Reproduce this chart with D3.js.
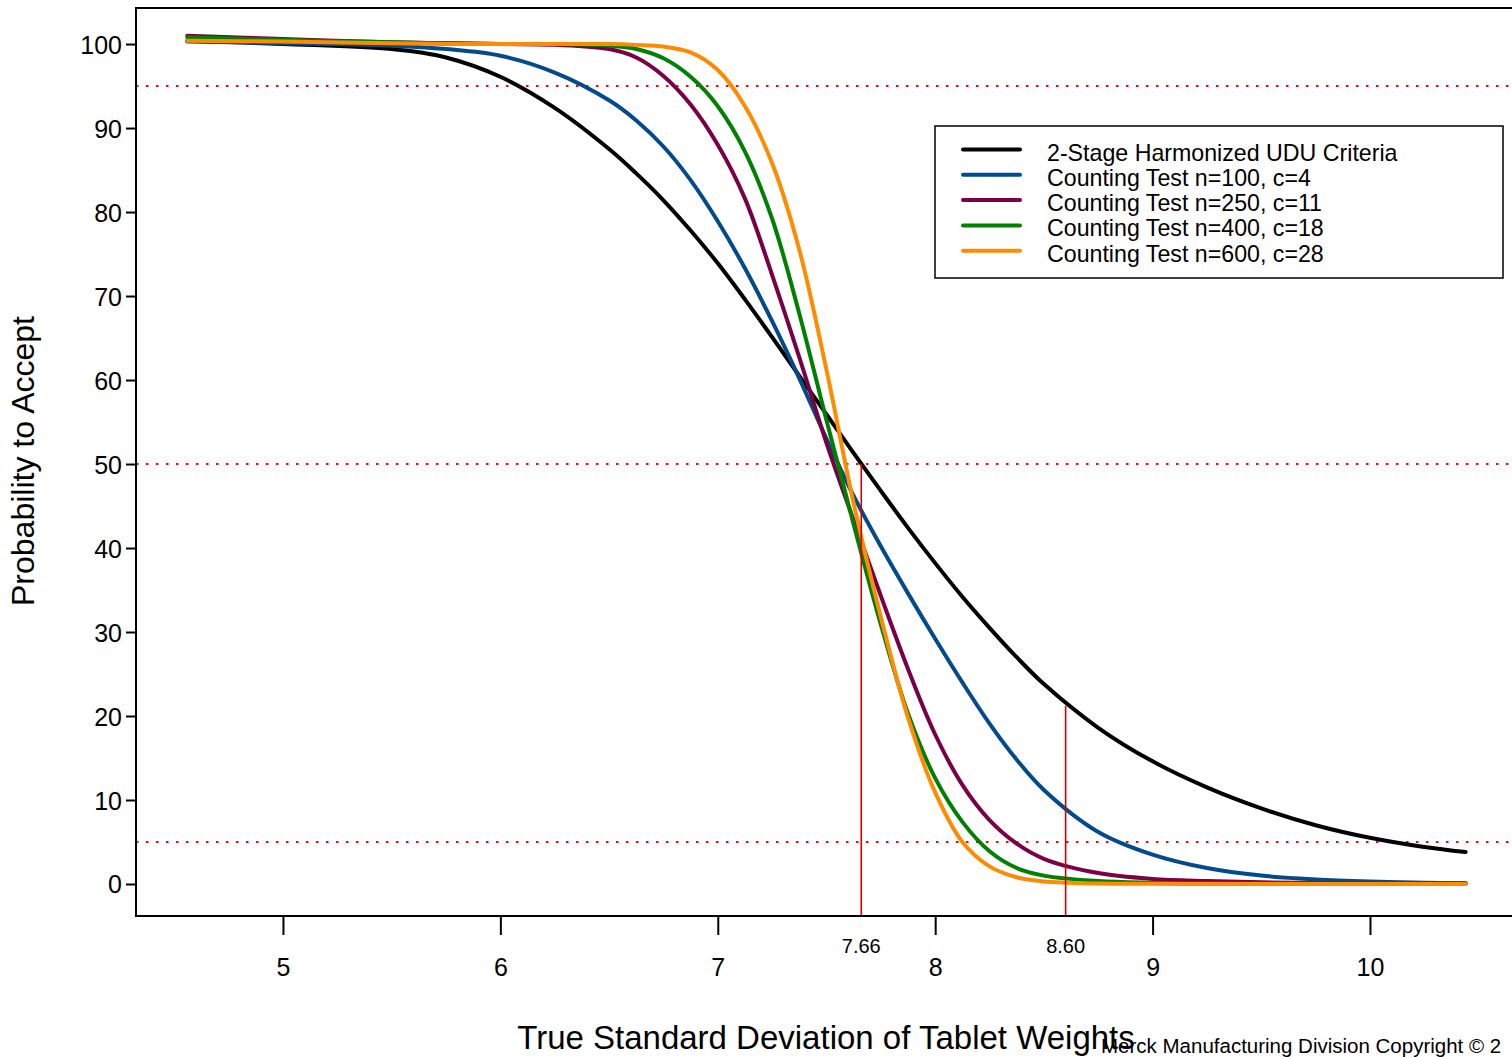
<!DOCTYPE html>
<html>
<head>
<meta charset="utf-8">
<script src="https://cdn.jsdelivr.net/npm/d3@7"></script>
<style>
body { margin: 0; background: #fff; }
text { font-family: "Liberation Sans", Arial, Helvetica, sans-serif; }
</style>
</head>
<body>
<svg id="svg"></svg>
<script>
// true SD of tablet weights (x) and probability to accept (%) for each plan
var sdGrid = [4.56, 5.0, 5.5, 5.75, 6.0, 6.25, 6.5, 6.625, 6.75, 6.875, 7.0, 7.125, 7.25, 7.375,
              7.5, 7.625, 7.75, 7.875, 8.0, 8.125, 8.25, 8.375, 8.5, 8.75, 9.0, 9.25, 9.5, 9.75,
              10.0, 10.25, 10.44];

var uduCurve  = [100.4, 100.0, 99.4, 98.4, 96.1, 92.4, 87.5, 84.6, 81.4, 77.8, 73.9, 69.6, 65.1, 60.5,
                 55.9, 51.3, 46.8, 42.4, 38.2, 34.2, 30.5, 27.0, 23.8, 18.6, 14.6, 11.5, 9.0, 7.0,
                 5.5, 4.4, 3.8];
var n100Curve = [100.3, 100.1, 99.8, 99.4, 98.6, 96.6, 93.3, 90.9, 87.8, 83.8, 78.9, 73.3, 67.0, 60.2,
                 53.0, 46.2, 40.2, 34.6, 29.2, 24.0, 19.1, 14.8, 11.2, 6.2, 3.5, 1.9, 1.0, 0.55,
                 0.3, 0.15, 0.1];
var n250Curve = [101.0, 100.6, 100.2, 100.1, 100.0, 99.9, 99.4, 98.4, 96.2, 92.8, 88.0, 81.6, 72.5, 62.7,
                 52.5, 43.3, 34.3, 25.6, 17.8, 11.8, 7.6, 4.8, 3.0, 1.3, 0.6, 0.35, 0.2, 0.12,
                 0.08, 0.05, 0.05];
var n400Curve = [100.8, 100.5, 100.2, 100.1, 100.0, 100.0, 99.8, 99.4, 98.3, 96.1, 92.6, 87.2, 79.2, 67.9,
                 55.2, 42.8, 30.9, 20.3, 12.6, 7.4, 3.9, 1.9, 1.0, 0.35, 0.15, 0.08, 0.05, 0.05,
                 0.05, 0.05, 0.05];
var n600Curve = [100.4, 100.3, 100.1, 100.0, 100.0, 100.0, 100.0, 99.9, 99.7, 99.0, 96.9, 92.6, 85.8, 75.5,
                 61.2, 45.3, 31.8, 19.8, 10.9, 5.0, 2.1, 0.8, 0.3, 0.05, 0.02, 0.0, 0.0, 0.0,
                 0.0, 0.0, 0.0];

var seriesNames  = ["2-Stage Harmonized UDU Criteria", "Counting Test n=100, c=4",
                    "Counting Test n=250, c=11", "Counting Test n=400, c=18", "Counting Test n=600, c=28"];
var seriesColors = ["#000000", "#034a8a", "#7a0045", "#008000", "#ff8c00"];

var xTicks = [5, 6, 7, 8, 9, 10];
var yTicks = [0, 10, 20, 30, 40, 50, 60, 70, 80, 90, 100];
var refLevels = [95, 50, 5];
var cutoffSd = [7.66, 8.60];
var cutoffP = [50, 21.2];
var cutoffLabels = ["7.66", "8.60"];

//////////////////////////////////////////////////////////////////////////////

var width = 1512, height = 1057;
var seriesValues = [uduCurve, n100Curve, n250Curve, n400Curve, n600Curve];

var svg = d3.select("#svg").attr("width", width).attr("height", height);
svg.append("rect").attr("width", width).attr("height", height).attr("fill", "#fff");

var x = d3.scaleLinear().domain([4.324, 10.69]).range([136, 1520]);
var y = d3.scaleLinear().domain([-3.81, 104.29]).range([916, 8]);

// horizontal dotted reference lines
svg.selectAll("line.ref")
    .data(refLevels)
    .enter().append("line")
    .attr("x1", x(4.324)).attr("x2", x(10.69))
    .attr("y1", function(d) { return y(d); })
    .attr("y2", function(d) { return y(d); })
    .attr("stroke", "#dd1111")
    .attr("stroke-width", 2)
    .attr("stroke-dasharray", "2.5,7.5");

var line = d3.line()
    .x(function(d) { return x(d[0]); })
    .y(function(d) { return y(d[1]); })
    .curve(d3.curveCatmullRom.alpha(0.5));

svg.selectAll("path.curve")
    .data(seriesValues)
    .enter().append("path")
    .attr("class", "curve")
    .attr("d", function(vals) { return line(d3.zip(sdGrid, vals)); })
    .attr("fill", "none")
    .attr("stroke", function(d, i) { return seriesColors[i]; })
    .attr("stroke-width", 4)
    .attr("stroke-linecap", "round")
    .attr("stroke-linejoin", "round");

// vertical cut-off lines
svg.selectAll("line.cut")
    .data(cutoffSd)
    .enter().append("line")
    .attr("x1", function(d) { return x(d); })
    .attr("x2", function(d) { return x(d); })
    .attr("y1", function(d, i) { return y(cutoffP[i]); })
    .attr("y2", y(-3.81))
    .attr("stroke", "#d40000")
    .attr("stroke-width", 1.6);

svg.selectAll("text.cut")
    .data(cutoffLabels)
    .enter().append("text")
    .attr("x", function(d, i) { return x(cutoffSd[i]); })
    .attr("y", 953)
    .attr("text-anchor", "middle")
    .attr("font-size", 20)
    .text(function(d) { return d; });

// plot frame
svg.append("rect")
    .attr("x", 136).attr("y", 8)
    .attr("width", x(10.69) - 136).attr("height", 916 - 8)
    .attr("fill", "none").attr("stroke", "#000").attr("stroke-width", 2);

var xAxis = svg.append("g")
    .attr("transform", "translate(0,916)")
    .call(d3.axisBottom(x).tickValues(xTicks).tickSize(19).tickFormat(d3.format("d")));
xAxis.select(".domain").remove();
xAxis.selectAll(".tick line").attr("stroke", "#000").attr("stroke-width", 2);
xAxis.selectAll(".tick text")
    .attr("y", 60).attr("dy", 0)
    .attr("font-size", 25).attr("fill", "#000")
    .attr("font-family", "Liberation Sans, Arial, sans-serif");

var yAxis = svg.append("g")
    .attr("transform", "translate(136,0)")
    .call(d3.axisLeft(y).tickValues(yTicks).tickSize(10).tickFormat(d3.format("d")));
yAxis.select(".domain").remove();
yAxis.selectAll(".tick line").attr("stroke", "#000").attr("stroke-width", 2);
yAxis.selectAll(".tick text")
    .attr("x", -14).attr("dy", "0.36em")
    .attr("font-size", 25).attr("fill", "#000")
    .attr("font-family", "Liberation Sans, Arial, sans-serif");

// axis titles
svg.append("text")
    .attr("x", 826).attr("y", 1049)
    .attr("text-anchor", "middle")
    .attr("font-size", 33)
    .text("True Standard Deviation of Tablet Weights");

svg.append("text")
    .attr("transform", "translate(34,461) rotate(-90)")
    .attr("text-anchor", "middle")
    .attr("font-size", 32)
    .text("Probability to Accept");

svg.append("text")
    .attr("x", 1101).attr("y", 1053)
    .attr("font-size", 20.5)
    .text("Merck Manufacturing Division Copyright \u00a9 2");

// legend
var legend = svg.append("g").attr("transform", "translate(935,126)");
legend.append("rect")
    .attr("width", 568).attr("height", 152)
    .attr("fill", "#fff").attr("stroke", "#000").attr("stroke-width", 1.5);

var rows = legend.selectAll("g.row")
    .data(seriesNames)
    .enter().append("g")
    .attr("transform", function(d, i) { return "translate(0," + (23.5 + i * 25.3) + ")"; });

rows.append("line")
    .attr("x1", 28).attr("x2", 85)
    .attr("stroke", function(d, i) { return seriesColors[i]; })
    .attr("stroke-width", 4)
    .attr("stroke-linecap", "round");

rows.append("text")
    .attr("x", 112).attr("y", 11)
    .attr("font-size", 23.2)
    .text(function(d) { return d; });
</script>
</body>
</html>
